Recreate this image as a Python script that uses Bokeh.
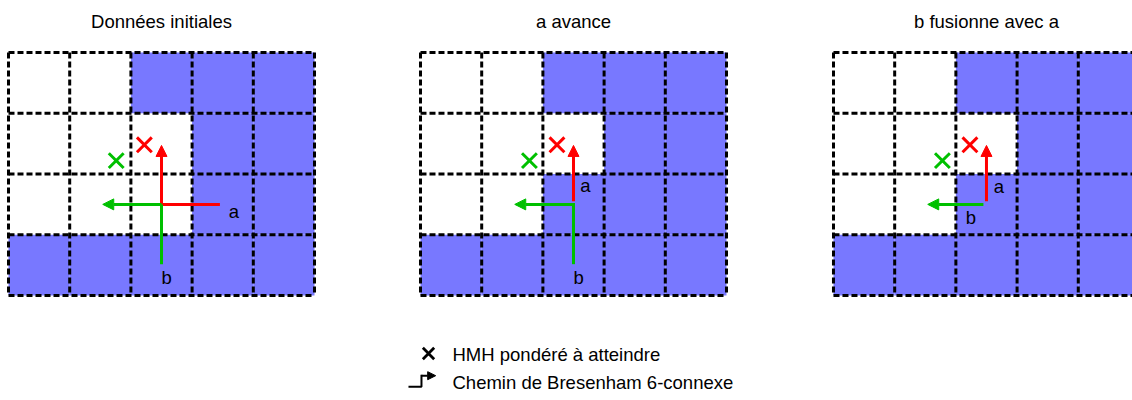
from bokeh.plotting import figure
from bokeh.models import Range1d, Arrow, NormalHead, ColumnDataSource
from bokeh.core.properties import value
from bokeh.embed import file_html
from bokeh.resources import INLINE

# ---------------- data ----------------
titles = ["Données initiales", "a avance", "b fusionne avec a"]
# grid rows from top to bottom, '#' = filled cell
grids = [
    ["..###", "...##", "...##", "#####"],
    ["..###", "...##", "..###", "#####"],
    ["..###", "...##", "..###", "#####"],
]
# Bresenham paths (cell units, origin bottom-left of each grid)
red_paths = [
    [(3.43, 1.5), (2.5, 1.5), (2.5, 2.47)],
    [(2.5, 1.55), (2.5, 2.47)],
    [(2.5, 1.55), (2.5, 2.47)],
]
green_paths = [
    [(2.5, 0.54), (2.5, 1.5), (1.54, 1.5)],
    [(2.5, 0.54), (2.5, 1.5), (1.54, 1.5)],
    [(2.45, 1.5), (1.54, 1.5)],
]
red_target_x = [2.22, 2.23, 2.23]
red_target_y = [2.48, 2.48, 2.48]
green_target_x = [1.76, 1.78, 1.78]
green_target_y = [2.22, 2.22, 2.22]
label_a_x = [3.6, 2.61, 2.62]
label_a_y = [1.39, 1.81, 1.80]
label_b_x = [2.5, 2.5, 2.16]
label_b_y = [0.29, 0.29, 1.29]
legend_labels = ["HMH pondéré à atteindre", "Chemin de Bresenham 6-connexe"]

# ---------------- layout ----------------
panel_offsets = [0.0, 6.732, 13.48]
W, H = 1132, 400
SX, SY = 61.2, 60.75
FILL = "#7878ff"
RED = "#ff0000"
GREEN = "#00c000"
FONT = value("Liberation Sans")
FS = "18.5px"

p = figure(width=W, height=H, output_backend="svg", toolbar_location=None,
           x_range=Range1d(-8 / SX, (W - 8) / SX), y_range=Range1d(-(H - 295) / SY, 295 / SY),
           x_axis_type=None, y_axis_type=None, min_border=0)
p.grid.visible = False
p.outline_line_color = None
p.background_fill_color = "white"

# cells
L, R, B, T = [], [], [], []
for off, g in zip(panel_offsets, grids):
    nrows = len(g)
    for ri, row in enumerate(g):
        for ci, ch in enumerate(row):
            if ch == "#":
                L.append(off + ci); R.append(off + ci + 1)
                B.append(nrows - 1 - ri); T.append(nrows - ri)
p.quad(left=L, right=R, bottom=B, top=T, fill_color=FILL, line_color=None)

# dashed grid lines
x0, y0, x1, y1 = [], [], [], []
for off, g in zip(panel_offsets, grids):
    nrows, ncols = len(g), len(g[0])
    for r in range(nrows + 1):
        x0.append(off); x1.append(off + ncols); y0.append(nrows - r); y1.append(nrows - r)
    for c in range(ncols + 1):
        x0.append(off + c); x1.append(off + c); y0.append(nrows); y1.append(0)
p.segment(x0=x0, y0=y0, x1=x1, y1=y1, line_color="black", line_width=3,
          line_dash="6 3")

# paths with arrows
def draw_path(off, pts, color, lw=3, head=11):
    xs = [off + q[0] for q in pts]
    ys = [q[1] for q in pts]
    if len(pts) > 2:
        p.line(xs[:-1], ys[:-1], line_color=color, line_width=lw, line_cap="square")
    src = ColumnDataSource(dict(xs=[xs[-2]], ys=[ys[-2]], xe=[xs[-1]], ye=[ys[-1]]))
    p.add_layout(Arrow(x_start="xs", y_start="ys", x_end="xe", y_end="ye", source=src,
                       line_color=color, line_width=lw,
                       end=NormalHead(size=head, fill_color=color, line_color=color, line_width=1)))

for off, rp, gp in zip(panel_offsets, red_paths, green_paths):
    draw_path(off, rp, RED)
    draw_path(off, gp, GREEN)

# targets
p.scatter([o + x for o, x in zip(panel_offsets, red_target_x)], red_target_y,
          marker="x", size=21, line_color=RED, line_width=3)
p.scatter([o + x for o, x in zip(panel_offsets, green_target_x)], green_target_y,
          marker="x", size=21, line_color=GREEN, line_width=3)

# labels a / b
p.text([o + x for o, x in zip(panel_offsets, label_a_x)], label_a_y, text=["a"] * 3,
       text_font=FONT, text_font_size=FS, text_color="black",
       text_align="left", text_baseline="alphabetic")
p.text([o + x for o, x in zip(panel_offsets, label_b_x)], label_b_y, text=["b"] * 3,
       text_font=FONT, text_font_size=FS, text_color="black",
       text_align="left", text_baseline="alphabetic")

# titles
p.text([o + 2.5 for o in panel_offsets], [4.51] * 3, text=titles,
       text_font=FONT, text_font_size=FS, text_color="black",
       text_align="center", text_baseline="alphabetic")

# legend
lx_text = 7.255
ly = [-0.975, -1.43]
p.text([lx_text] * 2, ly, text=legend_labels, text_font=FONT, text_font_size=FS,
       text_color="black", text_align="left", text_baseline="alphabetic")
p.scatter([6.863], [-0.955], marker="x", size=16, line_color="black", line_width=2.8)
icon_pts = [(6.552, -1.50), (6.748, -1.50), (6.748, -1.32), (6.98, -1.32)]
draw_path(0.0, icon_pts, "black", lw=2, head=8)

open("out.html", "w").write(file_html(p, INLINE))
